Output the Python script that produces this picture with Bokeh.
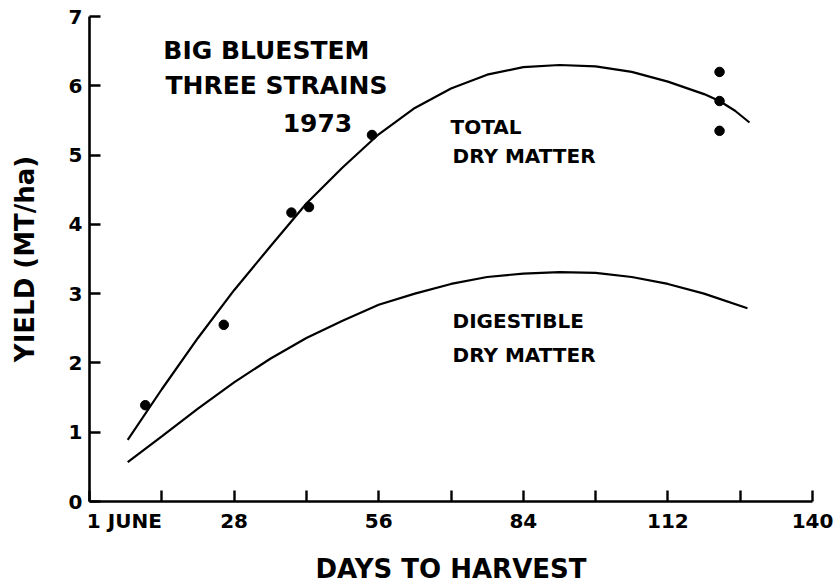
from bokeh.plotting import figure
from bokeh.models import Range1d, FixedTicker
from bokeh.core.properties import value
from bokeh.embed import file_html
from bokeh.resources import INLINE

# ---- data ----
harvest_days = [10.8, 26.0, 39.1, 42.5, 54.7, 122.0, 122.0, 122.0]
total_yield = [1.39, 2.55, 4.17, 4.25, 5.29, 6.20, 5.78, 5.35]

total_curve_days = [7.4, 14, 21, 28, 35, 42, 49, 56, 63, 70, 77, 84, 91, 98, 105, 112, 119, 122, 125, 127.8]
total_curve_yield = [0.89, 1.62, 2.36, 3.05, 3.68, 4.30, 4.82, 5.30, 5.68, 5.96, 6.16, 6.27, 6.30, 6.28, 6.20, 6.06, 5.88, 5.78, 5.64, 5.47]

dig_curve_days = [7.4, 14, 21, 28, 35, 42, 49, 56, 63, 70, 77, 84, 91, 98, 105, 112, 119, 127.4]
dig_curve_yield = [0.57, 0.94, 1.34, 1.72, 2.06, 2.36, 2.61, 2.84, 3.00, 3.14, 3.24, 3.29, 3.31, 3.30, 3.24, 3.14, 3.00, 2.79]

NB = "\u00a0"
x_ticks = [0, 14, 28, 42, 56, 70, 84, 98, 112, 126, 140]
x_tick_labels = {0: NB * 10 + "1 JUNE", 14: "", 28: "28", 42: "", 56: "56", 70: "", 84: "84",
                 98: "", 112: "112", 126: "", 140: "140"}
y_ticks = [0, 1, 2, 3, 4, 5, 6, 7]

FONT = value("DejaVu Sans")

p = figure(width=840, height=586, output_backend="svg", toolbar_location=None,
           x_range=Range1d(0, 140), y_range=Range1d(0, 7),
           min_border_left=89, min_border_right=28, min_border_top=16, min_border_bottom=80)
p.outline_line_color = None
p.xgrid.visible = False
p.ygrid.visible = False
p.background_fill_color = "white"
p.border_fill_color = "white"

for ax in (p.xaxis[0], p.yaxis[0]):
    ax.axis_line_width = 2.6
    ax.axis_line_color = "black"
    ax.major_tick_in = 11
    ax.major_tick_out = 0
    ax.major_tick_line_width = 2.4
    ax.major_tick_line_color = "black"
    ax.minor_tick_line_color = None
    ax.major_label_text_font = "DejaVu Sans"
    ax.major_label_text_font_style = "bold"
    ax.major_label_text_font_size = "20px"
    ax.major_label_text_color = "black"
    ax.axis_label_text_font = "DejaVu Sans"
    ax.axis_label_text_font_style = "bold"
    ax.axis_label_text_color = "black"

p.xaxis[0].ticker = FixedTicker(ticks=x_ticks)
p.xaxis[0].major_label_overrides = x_tick_labels
p.xaxis[0].major_label_standoff = 7
p.xaxis[0].axis_label = "DAYS TO HARVEST"
p.xaxis[0].axis_label_text_font_size = "26px"
p.xaxis[0].axis_label_standoff = 18

p.yaxis[0].ticker = FixedTicker(ticks=y_ticks)
p.yaxis[0].major_label_standoff = 7
p.yaxis[0].axis_label = "YIELD (MT/ha)"
p.yaxis[0].axis_label_text_font_size = "26px"
p.yaxis[0].axis_label_standoff = 26

# curves
p.line(total_curve_days, total_curve_yield, line_color="black", line_width=2.2)
p.line(dig_curve_days, dig_curve_yield, line_color="black", line_width=2.2)

# observed points
p.scatter(harvest_days, total_yield, size=9.5, marker="circle",
          fill_color="black", line_color="black")

# annotations
p.text(x=[14.3, 14.7], y=[6.51, 6.01], text=["BIG BLUESTEM", "THREE STRAINS"],
       text_font=FONT, text_font_style="bold", text_font_size="25px",
       text_color="black", text_baseline="alphabetic", text_align="left")
p.text(x=[37.4], y=[5.47], text=["1973"],
       text_font=FONT, text_font_style="bold", text_font_size="25px",
       text_color="black", text_baseline="alphabetic", text_align="left")
p.text(x=[69.9, 70.3, 70.3, 70.3], y=[5.40, 4.99, 2.60, 2.11],
       text=["TOTAL", "DRY MATTER", "DIGESTIBLE", "DRY MATTER"],
       text_font=FONT, text_font_style="bold", text_font_size="20px",
       text_color="black", text_baseline="alphabetic", text_align="left")

open("out.html", "w").write(file_html(p, INLINE))
